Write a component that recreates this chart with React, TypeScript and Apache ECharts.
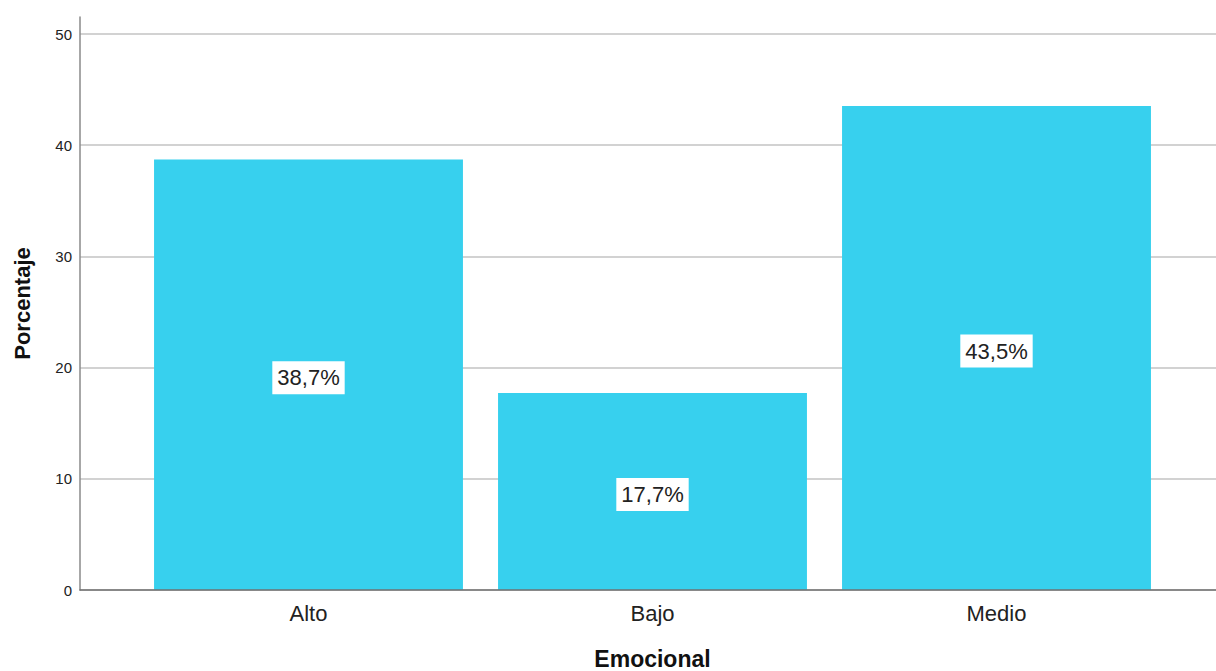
import React, { useEffect, useRef } from "react";
import * as echarts from "echarts";

const categories = ["Alto", "Bajo", "Medio"];
const percentages = [38.7, 17.7, 43.5];
const yTicks = [0, 10, 20, 30, 40, 50];
const xAxisTitle = "Emocional";
const yAxisTitle = "Porcentaje";

const FONT = "'Liberation Sans', Arial, sans-serif";

export default function App() {
  const ref = useRef<HTMLDivElement>(null);
  useEffect(() => {
    document.body.style.margin = "0";
    const chart = echarts.init(ref.current!, null, { renderer: "svg" });
    const tickMax = yTicks[yTicks.length - 1];
    const axisMax = 51.5;
    chart.setOption({
      animation: false,
      backgroundColor: "#ffffff",
      textStyle: { fontFamily: FONT },
      grid: [
        { left: 80, right: 0, top: 17, bottom: 81, outerBoundsMode: "none", containLabel: false },
        { left: 136.5, right: 47.5, top: 17, bottom: 81, outerBoundsMode: "none", containLabel: false },
        { left: 80, right: 0, top: 34, bottom: 81, outerBoundsMode: "none", containLabel: false },
      ],
      xAxis: [
        {
          gridIndex: 0,
          type: "value",
          min: 0,
          max: 1,
          z: 5,
          axisLine: { show: true, lineStyle: { color: "#707070", width: 1.5 } },
          axisTick: { show: false },
          axisLabel: { show: false },
          splitLine: { show: false },
        },
        {
          gridIndex: 1,
          type: "category",
          data: categories,
          axisLine: { show: false },
          axisTick: { show: false },
          axisLabel: { fontSize: 22, color: "#222", margin: 12, fontFamily: FONT },
          name: xAxisTitle,
          nameLocation: "middle",
          nameGap: 57,
          nameTextStyle: { fontSize: 23, lineHeight: 23, fontWeight: "bold", color: "#111", fontFamily: FONT },
        },
        {
          gridIndex: 2,
          type: "value",
          min: 0,
          max: 1,
          show: false,
        },
      ],
      yAxis: [
        {
          gridIndex: 0,
          type: "value",
          min: 0,
          max: axisMax,
          z: 5,
          axisLine: { show: true, lineStyle: { color: "#8a8a8a", width: 1.5 } },
          axisTick: { show: false },
          axisLabel: { show: false },
          splitLine: { show: false },
          name: yAxisTitle,
          nameLocation: "middle",
          nameGap: 47,
          nameRotate: 90,
          nameTextStyle: { fontSize: 22, fontWeight: "bold", color: "#111", fontFamily: FONT },
        },
        {
          gridIndex: 1,
          type: "value",
          min: 0,
          max: axisMax,
          show: false,
        },
        {
          gridIndex: 2,
          type: "value",
          min: yTicks[0],
          max: tickMax,
          interval: 10,
          axisLine: { show: false },
          axisTick: { show: false },
          axisLabel: { fontSize: 15, color: "#222", margin: 8, fontFamily: FONT },
          splitLine: { show: true, lineStyle: { color: "#d2d2d2", width: 2 } },
        },
      ],
      series: [
        {
          type: "bar",
          xAxisIndex: 1,
          yAxisIndex: 1,
          data: percentages,
          barCategoryGap: "10.2%",
          itemStyle: { color: "#37d0ee" },
          label: {
            show: true,
            position: "inside",
            offset: [0, 3],
            backgroundColor: "#ffffff",
            padding: [6, 5, 5, 5],
            fontSize: 22,
            color: "#222",
            fontFamily: FONT,
            formatter: (p: any) => p.value.toFixed(1).replace(".", ",") + "%",
          },
        },
      ],
    });
    return () => chart.dispose();
  }, []);
  return <div ref={ref} style={{ width: 1216, height: 671 }} />;
}
